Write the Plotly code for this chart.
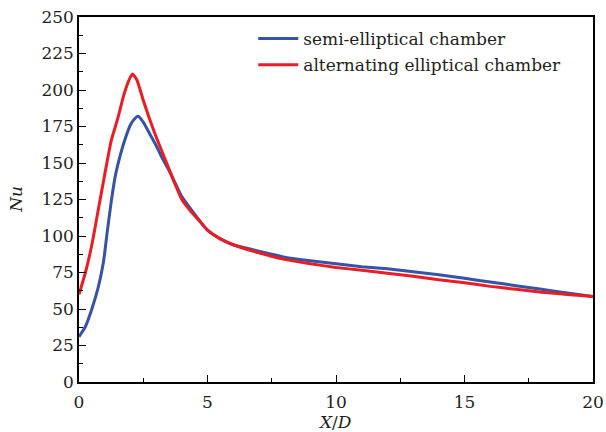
import plotly.graph_objects as go

x_semi = [0, 0.25, 0.5, 0.75, 0.95, 1.1, 1.25, 1.4, 1.5, 1.75, 2.0, 2.15, 2.3, 2.5, 2.75, 3.0, 3.25, 3.5, 3.75, 4.0, 4.5, 5.0, 5.5, 6.0, 7.0, 8.0, 9.0, 10, 11, 12, 13, 14, 15, 16, 17, 18, 19, 20]
nu_semi = [31, 38, 50, 65, 82, 103, 123, 140, 148, 164, 176, 180, 182, 178, 170, 162, 153, 145, 136, 127, 115, 104, 98, 94, 89.5, 85.5, 83, 81, 79, 77.5, 75.5, 73.5, 71, 68.5, 66, 63.5, 61, 58.5]

x_alt = [0, 0.25, 0.5, 0.75, 1.0, 1.25, 1.5, 1.75, 1.95, 2.08, 2.25, 2.5, 2.75, 3.0, 3.25, 3.5, 3.75, 4.0, 4.3, 4.6, 5.0, 5.5, 6.0, 7.0, 8.0, 9.0, 10, 11, 12, 13, 14, 15, 16, 17, 18, 19, 20]
nu_alt = [60, 75, 94, 118, 142, 165, 180, 197, 207, 211, 207, 193, 180, 168, 157, 146, 135, 125, 118, 112, 104, 98, 94, 88.5, 84, 81, 78.5, 76.5, 74.5, 72.5, 70, 68, 65.5, 63.5, 61.5, 60, 58.5]

x_ticks = [0, 5, 10, 15, 20]
y_ticks = [0, 25, 50, 75, 100, 125, 150, 175, 200, 225, 250]

FONT = "DejaVu Serif, serif"
SIZE = 17
TXT = "#231f20"

fig = go.Figure()
fig.add_trace(go.Scatter(x=x_semi, y=nu_semi, mode="lines", name="semi-elliptical chamber",
                         legend="legend",
                         line=dict(color="#3653A5", width=3, shape="spline", smoothing=0.5)))
fig.add_trace(go.Scatter(x=x_alt, y=nu_alt, mode="lines", name="alternating elliptical chamber",
                         legend="legend2",
                         line=dict(color="#EC1C24", width=3, shape="spline", smoothing=0.5)))

axis_common = dict(showgrid=False, zeroline=False, showline=True, linecolor="black", linewidth=1.5,
                   mirror=True, ticks="inside", ticklen=7, tickwidth=1.2, tickcolor="black",
                   tickfont=dict(family=FONT, size=SIZE, color=TXT))

fig.update_xaxes(range=[0, 20], tickvals=x_ticks, automargin=False, ticklabelstandoff=4,
                 minor=dict(ticks="inside", dtick=2.5, ticklen=4, tickcolor="black", tickwidth=1),
                 **axis_common)
fig.update_yaxes(range=[0, 250], tickvals=y_ticks, automargin=False,
                 minor=dict(ticks="inside", dtick=12.5, ticklen=4, tickcolor="black", tickwidth=1),
                 **axis_common)

fig.add_annotation(text="<i>X</i>/<i>D</i>", xref="paper", yref="paper", x=0.498, y=-0.11,
                   xanchor="center", yanchor="middle", showarrow=False,
                   font=dict(family=FONT, size=SIZE, color=TXT))
fig.add_annotation(text="<i>Nu</i>", xref="paper", yref="paper", x=-0.124, y=0.5,
                   xanchor="center", yanchor="middle", textangle=-90, showarrow=False,
                   font=dict(family=FONT, size=SIZE, color=TXT))

leg_common = dict(xanchor="left", yanchor="middle", bgcolor="rgba(0,0,0,0)",
                  font=dict(family=FONT, size=SIZE, color=TXT), itemwidth=40)

fig.update_layout(
    width=606, height=432,
    margin=dict(l=79, r=13, t=17, b=50),
    plot_bgcolor="white", paper_bgcolor="white",
    font=dict(family=FONT, size=SIZE, color=TXT),
    legend=dict(x=0.339, y=0.940, **leg_common),
    legend2=dict(x=0.339, y=0.868, **leg_common),
    showlegend=True,
)

fig.write_html("out.html", config={"displayModeBar": False},
               post_script="document.body.style.margin='0px';document.body.style.overflow='hidden';")
